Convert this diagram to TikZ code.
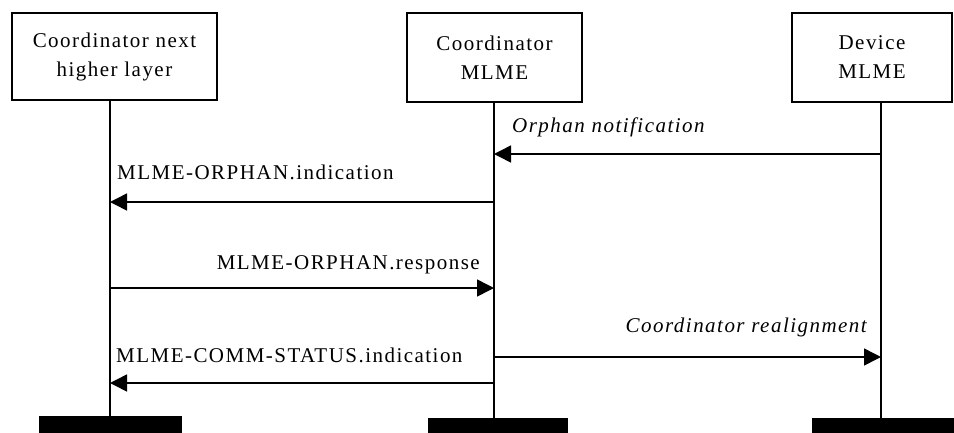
\documentclass[tikz,border=0pt]{standalone}
\usepackage{fontspec}
\setmainfont[LetterSpace=7]{Liberation Serif}
\usetikzlibrary{arrows.meta}

\begin{document}
\begin{tikzpicture}[x=1pt,y=-1pt,
  actor/.style={draw, line width=1.5pt, align=center, inner sep=0pt,
    font=\fontsize{21}{29}\selectfont},
  lifeline/.style={line width=1.3pt},
  msg/.style={line width=1.5pt, -{Triangle[length=17pt,width=17pt]}},
  lbl/.style={font=\fontsize{21}{25}\selectfont, inner sep=0pt},
  bar/.style={fill=black, draw=none, inner sep=0pt, minimum height=24pt}
]
\useasboundingbox (0,0) rectangle (954,432);

% participants
\node[actor, minimum width=205pt, minimum height=87pt] (hl)  at (114.5,56.5) {Coordinator next\\higher layer};
\node[actor, minimum width=175pt, minimum height=89pt] (cm)  at (494.5,57.5) {Coordinator\\MLME};
\node[actor, minimum width=160pt, minimum height=89pt] (dm)  at (872,57.5) {Device\\MLME};

% end bars
\node[bar, minimum width=143pt] (hlend) at (110.5,428) {};
\node[bar, minimum width=140pt] (cmend) at (498,430) {};
\node[bar, minimum width=148pt] (dmend) at (886,430) {};

% lifelines
\coordinate (hlt) at (110,100);  \coordinate (hlb) at (110,416);
\coordinate (cmt) at (494,102);  \coordinate (cmb) at (494,418);
\coordinate (dmt) at (881,102);  \coordinate (dmb) at (881,418);
\draw[lifeline] (hlt) -- (hlb);
\draw[lifeline] (cmt) -- (cmb);
\draw[lifeline] (dmt) -- (dmb);

% message end points
\coordinate (m1a) at (881,154); \coordinate (m1b) at (494,154);
\coordinate (m2a) at (494,202); \coordinate (m2b) at (110,202);
\coordinate (m3a) at (110,288); \coordinate (m3b) at (494,288);
\coordinate (m4a) at (494,357); \coordinate (m4b) at (881,357);
\coordinate (m5a) at (494,383); \coordinate (m5b) at (110,383);

% messages
\draw[msg] (m1a) -- (m1b);
\draw[msg] (m2a) -- (m2b);
\draw[msg] (m3a) -- (m3b);
\draw[msg] (m4a) -- (m4b);
\draw[msg] (m5a) -- (m5b);

% message labels
\node[lbl, anchor=west, font=\fontsize{21}{25}\selectfont\itshape] (t1) at (512,127) {Orphan notification};
\node[lbl, anchor=west] (t2) at (117,172) {MLME-ORPHAN.indication};
\node[lbl, anchor=east] (t3) at (480,265) {MLME-ORPHAN.response};
\node[lbl, anchor=east, font=\fontsize{21}{25}\selectfont\itshape] (t4) at (867,327) {Coordinator realignment};
\node[lbl, anchor=west] (t5) at (116,355) {MLME-COMM-STATUS.indication};
\end{tikzpicture}
\end{document}
